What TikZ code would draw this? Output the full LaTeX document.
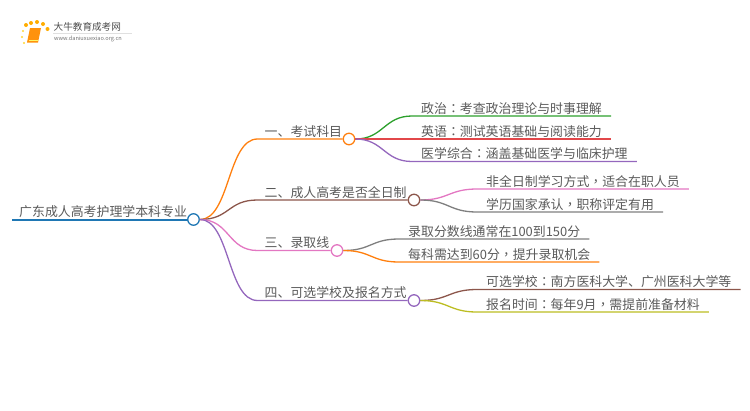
\documentclass[tikz,border=0pt]{standalone}
\usepackage{fontspec}
\setmainfont{Noto Sans CJK SC}
\newfontfamily\punctfont{Noto Sans CJK TC}
\newcommand{\cn}{{\punctfont ：}}
\newcommand{\cm}{{\punctfont ，}}
\definecolor{cblue}{HTML}{1F77B4}
\definecolor{corange}{HTML}{FF7F0E}
\definecolor{cgreen}{HTML}{2CA02C}
\definecolor{cred}{HTML}{E2474A}
\definecolor{cpurple}{HTML}{9467BD}
\definecolor{cbrown}{HTML}{8C564B}
\definecolor{cpink}{HTML}{E377C2}
\definecolor{cgray}{HTML}{7F7F7F}
\definecolor{colive}{HTML}{BCBD22}
\definecolor{txtgray}{HTML}{5A5A5A}
\tikzset{
  topic/.style={anchor=south west, inner xsep=7pt, inner ysep=0pt, text height=11pt, text depth=2.6pt,
    text=txtgray, font=\fontsize{12.9}{14}\selectfont},
  leaf/.style={topic, inner xsep=9pt},
  joint/.style={circle, draw=#1, fill=white, line width=1.3pt, inner sep=0pt, minimum size=11.5pt},
  link/.style={line width=1.3pt, #1},
}
\begin{document}
\begin{tikzpicture}[x=1pt, y=-1pt]
  \useasboundingbox (0,0) rectangle (750,410);
  % logo
  \foreach \px/\py in {26/25, 31/23, 37/22, 43/24, 47.5/29}
    \fill[orange!65!yellow] (\px,\py) circle (2);
  \foreach \px/\py in {23/31, 22/37, 24/43}
    \fill[orange!40!yellow!80!white] (\px,\py) circle (1.2);
  \fill[corange!85!yellow] (30,28) -- (41,28) -- (38,42.5) -- (27,42.5) -- cycle;
  \draw[yellow!60!white, line width=0.5pt] (28.5,40) -- (38,40);
  \node[anchor=west, inner sep=0pt, text=black!70, font=\fontsize{9.6}{11}\selectfont] (logotitle) at (53.5,27) {大牛教育成考网};
  \node[anchor=west, inner sep=0pt, text=black!55, font=\fontsize{5.6}{7}\selectfont] (logourl) at (54,38.5) {www.daniuxuexiao.org.cn};
  \draw[black!12, line width=0.4pt] (53,33.5) -- (132,33.5);

  % root and first level
  \node[topic] (root) at (12,219.5) {广东成人高考护理学本科专业};
  \node[topic] (t1) at (257.5,139) {一、考试科目};
  \node[topic] (t2) at (257.5,200) {二、成人高考是否全日制};
  \node[topic] (t3) at (257.5,250.5) {三、录取线};
  \node[topic] (t4) at (257.5,300.5) {四、可选学校及报名方式};
  \draw[cblue, line width=2pt] (root.south west) -- (193.5,219.5);
  \node[joint=cblue] (c0) at (193.5,219.5) {};
  \node[joint=corange] (c1) at (349,139) {};
  \node[joint=cbrown] (c2) at (414,200) {};
  \node[joint=cpink] (c3) at (337,250.5) {};
  \node[joint=cpurple] (c4) at (414,300.5) {};
  \draw[link=corange] (c0.east) .. controls +(30,0) and +(-30,0) .. (t1.south west) -- (c1.west);
  \draw[link=cbrown] (c0.east) .. controls +(30,0) and +(-30,0) .. (t2.south west) -- (c2.west);
  \draw[link=cpink] (c0.east) .. controls +(30,0) and +(-30,0) .. (t3.south west) -- (c3.west);
  \draw[link=cpurple] (c0.east) .. controls +(30,0) and +(-30,0) .. (t4.south west) -- (c4.west);

  % leaves
  \node[leaf] (l11) at (412,116) {政治\cn 考查政治理论与时事理解};
  \node[leaf] (l12) at (412,139) {英语\cn 测试英语基础与阅读能力};
  \node[leaf] (l13) at (412,161.5) {医学综合\cn 涵盖基础医学与临床护理};
  \node[leaf] (l21) at (477,189) {非全日制学习方式\cm 适合在职人员};
  \node[leaf] (l22) at (477,212) {学历国家承认\cm 职称评定有用};
  \node[leaf] (l31) at (399,239) {录取分数线通常在100到150分};
  \node[leaf] (l32) at (399,262) {每科需达到60分\cm 提升录取机会};
  \node[leaf] (l41) at (477,289.5) {可选学校\cn 南方医科大学、广州医科大学等};
  \node[leaf] (l42) at (477,312) {报名时间\cn 每年9月\cm 需提前准备材料};
  \draw[link=cgreen] (c1.east) .. controls +(28,0) and +(-28,0) .. (l11.south west) -- (l11.south east);
  \draw[link=cred] (c1.east) -- (l12.south west) -- (l12.south east);
  \draw[link=cpurple] (c1.east) .. controls +(28,0) and +(-28,0) .. (l13.south west) -- (l13.south east);
  \draw[link=cpink] (c2.east) .. controls +(28,0) and +(-28,0) .. (l21.south west) -- (l21.south east);
  \draw[link=cgray] (c2.east) .. controls +(28,0) and +(-28,0) .. (l22.south west) -- (l22.south east);
  \draw[link=cgray] (c3.east) .. controls +(28,0) and +(-28,0) .. (l31.south west) -- (l31.south east);
  \draw[link=corange] (c3.east) .. controls +(28,0) and +(-28,0) .. (l32.south west) -- (l32.south east);
  \draw[link=cbrown] (c4.east) .. controls +(28,0) and +(-28,0) .. (l41.south west) -- (l41.south east);
  \draw[link=colive] (c4.east) .. controls +(28,0) and +(-28,0) .. (l42.south west) -- (l42.south east);
\end{tikzpicture}
\end{document}
